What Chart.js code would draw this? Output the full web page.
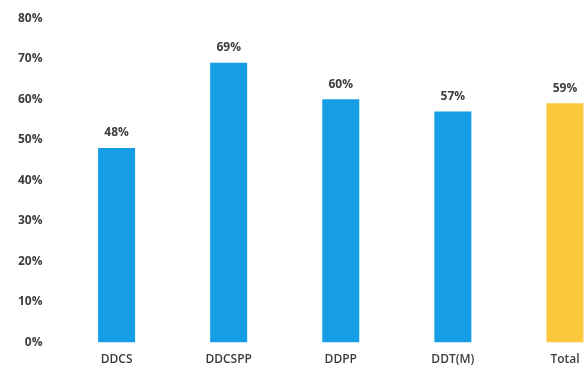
<!DOCTYPE html>
<html>
<head>
<meta charset="utf-8">
<script src="https://cdn.jsdelivr.net/npm/chart.js@4"></script>
<style>
  html, body { margin: 0; padding: 0; background: #fff; }
  #wrap { width: 587px; height: 369px; overflow: hidden; position: relative; }
  #box { width: 621px; height: 384px; position: absolute; left: 0; top: -7px; }
</style>
</head>
<body>
<div id="wrap"><div id="box"><canvas id="chart"></canvas></div></div>
<script>
// datos
const categories = ['DDCS', 'DDCSPP', 'DDPP', 'DDT(M)', 'Total'];
const values = [48, 69, 60, 57, 59];
const barColors = ['#159DE6', '#159DE6', '#159DE6', '#159DE6', '#FDC83E'];
const yTicks = [0, 10, 20, 30, 40, 50, 60, 70, 80];

// etiquetas encima de cada barra
const valueLabels = {
    id: 'valueLabels',
    afterDatasetsDraw(chart) {
        const ctx = chart.ctx;
        const meta = chart.getDatasetMeta(0);
        ctx.save();
        ctx.font = 'bold 12px "Open Sans", sans-serif';
        ctx.fillStyle = '#3d3d3d';
        ctx.textAlign = 'center';
        ctx.textBaseline = 'bottom';
        meta.data.forEach((bar, i) => {
            ctx.fillText(values[i] + '%', bar.x, bar.y - 9);
        });
        ctx.restore();
    }
};

new Chart(document.getElementById('chart').getContext('2d'), {
    type: 'bar',
    data: {
        labels: categories,
        datasets: [{
            data: values,
            backgroundColor: barColors,
            borderWidth: 0,
            barPercentage: 0.33,
            categoryPercentage: 1
        }]
    },
    options: {
        responsive: true,
        maintainAspectRatio: false,
        animation: false,
        layout: { padding: { left: 0, top: 0, right: 0, bottom: 0 } },
        plugins: {
            legend: { display: false },
            tooltip: { enabled: false }
        },
        scales: {
            x: {
                grid: { display: false, drawTicks: false },
                border: { display: false },
                ticks: {
                    padding: 10,
                    color: '#3d3d3d',
                    font: { family: '"Open Sans", sans-serif', size: 12, weight: '600' }
                }
            },
            y: {
                min: 0,
                max: 80,
                grid: { display: false, drawTicks: false },
                border: { display: false },
                afterBuildTicks(scale) {
                    scale.ticks = yTicks.map(v => ({ value: v }));
                },
                ticks: {
                    padding: 18,
                    color: '#3d3d3d',
                    font: { family: '"Open Sans", sans-serif', size: 12, weight: 'bold' },
                    callback: v => v + '%'
                }
            }
        }
    },
    plugins: [valueLabels]
});
</script>
</body>
</html>
